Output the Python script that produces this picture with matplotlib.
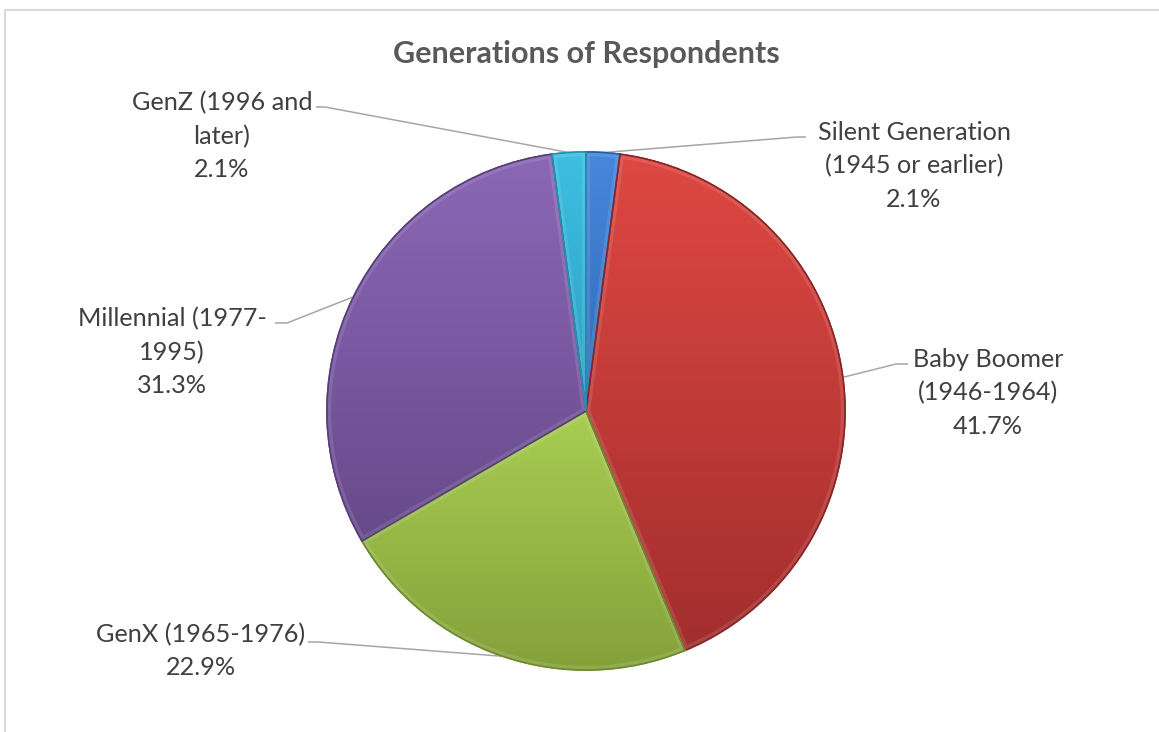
import numpy as np
import matplotlib
matplotlib.use("Agg")
import matplotlib.pyplot as plt
from matplotlib.colors import to_rgb
from matplotlib.patches import Wedge

plt.rcParams['font.family'] = ['Lato', 'DejaVu Sans']

# ---- data ----
categories = ["Silent Generation (1945 or earlier)", "Baby Boomer (1946-1964)",
              "GenX (1965-1976)", "Millennial (1977-1995)", "GenZ (1996 and later)"]
display_labels = ["Silent Generation\n(1945 or earlier)", "Baby Boomer\n(1946-1964)",
                  "GenX (1965-1976)", "Millennial (1977-\n1995)", "GenZ (1996 and\nlater)"]
percentages = [2.1, 41.7, 22.9, 31.3, 2.1]
title = "Generations of Respondents"

# ---- style ----
top_colors = ["#4688dc", "#df4842", "#a9cd53", "#8b68b7", "#3dbfe2"]
bottom_colors = ["#2f69b6", "#a22e2e", "#84a13a", "#674a8b", "#2a9fc4"]
edge_colors = ["#2a5ea4", "#8a2626", "#708a30", "#57407a", "#2690b2"]

W, H = 1159, 732
fig = plt.figure(figsize=(W / 100, H / 100), dpi=100)
ax = fig.add_axes([0, 0, 1, 1])

cx, cy_px, r = 586, 411, 259
cy = H - cy_px

wedges, _ = ax.pie(percentages, startangle=90, counterclock=False,
                   center=(cx, cy), radius=r, colors=top_colors,
                   wedgeprops=dict(linewidth=1.2))

for w, tc, bc, ec in zip(wedges, top_colors, bottom_colors, edge_colors):
    w.set_edgecolor(ec)
    ext = w.get_path().get_extents()
    n = 256
    t = np.linspace(0, 1, n)[:, None]
    c0 = np.array(to_rgb(tc)); c1 = np.array(to_rgb(bc))
    img = (c0[None, :] * (1 - t) + c1[None, :] * t)[:, None, :]
    z = w.get_zorder()
    im = ax.imshow(img, extent=(ext.x0, ext.x1, ext.y0, ext.y1), origin='upper',
                   aspect='auto', zorder=z + 0.1, interpolation='bilinear')
    im.set_clip_path(w)
    # soft inner bevel highlight
    glow = Wedge(w.center, w.r, w.theta1, w.theta2, facecolor='none',
                 edgecolor='white', alpha=0.11, linewidth=6, zorder=z + 0.15)
    ax.add_patch(glow)
    glow.set_clip_path(w)
    edge = Wedge(w.center, w.r, w.theta1, w.theta2, facecolor='none',
                 edgecolor=ec, linewidth=1.2, zorder=z + 0.2)
    ax.add_patch(edge)

# label positions (pixel coords, y down): text center, leader start near label, elbow
label_pos = [(914, 166), (988, 393), (201, 651), (172, 352), (222, 136)]
leader_start = [(806, 137), (908, 364), (308, 642), (275, 323), (316, 107)]
leader_elbow = [(797, 137), (896, 364), (318, 642), (287, 323), (325, 107)]

for w, lab, pct, (lx, ly), (sx, sy), (ex, ey) in zip(
        wedges, display_labels, percentages, label_pos, leader_start, leader_elbow):
    ang = np.deg2rad((w.theta1 + w.theta2) / 2)
    px = w.center[0] + w.r * np.cos(ang)
    py = w.center[1] + w.r * np.sin(ang)
    ax.plot([sx, ex, px], [H - sy, H - ey, py], color="#a6a6a6", lw=1.1,
            solid_capstyle='butt', zorder=1)
    ax.text(lx, H - ly, f"{lab}\n{pct:.1f}%", ha='center', va='center',
            multialignment='center', fontsize=18.2, color="#404040", linespacing=1.53)

ax.text(cx, H - 63, title, ha='center', va='baseline', fontsize=22,
        fontweight='bold', color="#595959")

# chart border (partially cropped)
ax.plot([5, 5, W + 5], [-5, H - 10, H - 10], color="#d9d9d9", lw=1.5, zorder=0)

ax.set_xlim(0, W)
ax.set_ylim(0, H)
ax.set_axis_off()
fig.savefig("out.png", dpi=100)
